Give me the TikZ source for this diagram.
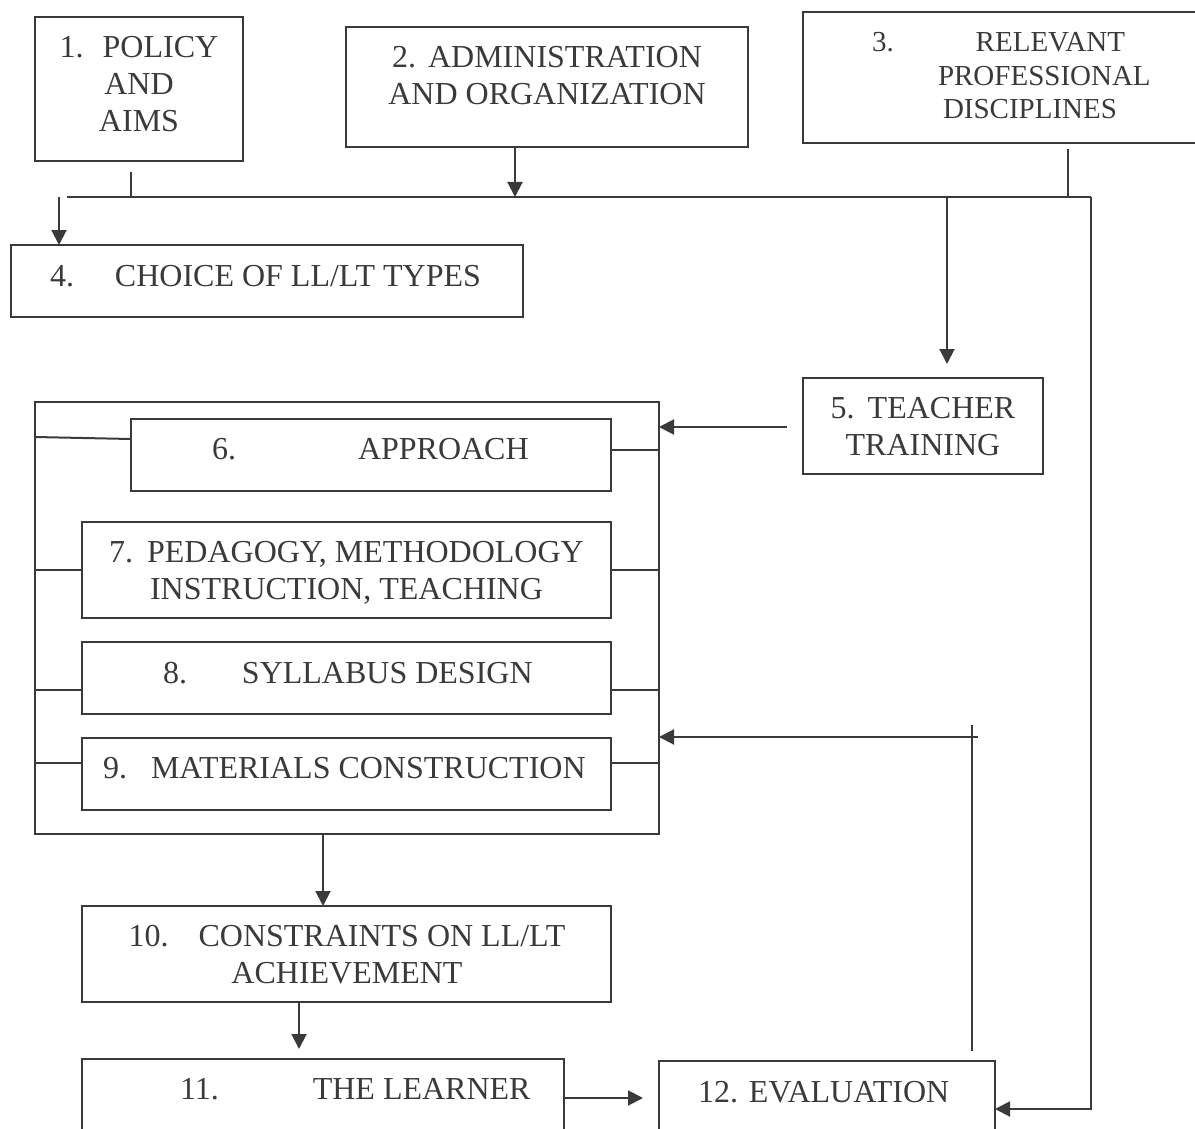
\documentclass[tikz,border=0pt]{standalone}
\usepackage{fontspec}
\setmainfont{Liberation Serif}
\usetikzlibrary{arrows.meta}
\definecolor{ink}{HTML}{3A3A3D}
\begin{document}
\begin{tikzpicture}[x=1pt,y=-1pt,
  box/.style={draw=ink, line width=2pt, inner sep=0pt, outer sep=0pt, anchor=north west},
  txt/.style={text=ink, inner sep=0pt, outer sep=0pt, align=center, font=\fontsize{32}{37}\selectfont},
  ln/.style={draw=ink, line width=2pt},
  arr/.style={ln, -{Triangle[length=15pt,width=15pt]}}]
\useasboundingbox (0,0) rectangle (1195,1129);
\clip (0,0) rectangle (1195,1129);
% boxes
\node[box, minimum width=208pt, minimum height=144pt] (b1) at (35,17) {};
\node[box, minimum width=402pt, minimum height=120pt] (b2) at (346,27) {};
\node[box, minimum width=420pt, minimum height=131pt] (b3) at (803,12) {};
\node[box, minimum width=512pt, minimum height=72pt] (b4) at (11,245) {};
\node[box, minimum width=240pt, minimum height=96pt] (b5) at (803,378) {};
\node[box, minimum width=624pt, minimum height=432pt] (bo) at (35,402) {};
\node[box, minimum width=480pt, minimum height=72pt] (b6) at (131,419) {};
\node[box, minimum width=529pt, minimum height=96pt] (b7) at (82,522) {};
\node[box, minimum width=529pt, minimum height=72pt] (b8) at (82,642) {};
\node[box, minimum width=529pt, minimum height=72pt] (b9) at (82,738) {};
\node[box, minimum width=529pt, minimum height=96pt] (b10) at (82,906) {};
\node[box, minimum width=482pt, minimum height=78pt] (b11) at (82,1059) {};
\node[box, minimum width=336pt, minimum height=96pt] (b12) at (659,1061) {};
% texts
\node[txt, anchor=north] (t1) at (139,32.1) {\strut 1.\hspace{19pt}POLICY\\AND\\AIMS};
\node[txt, anchor=north] (t2) at (547,42.1) {\strut 2.\hspace{12pt}ADMINISTRATION\\AND ORGANIZATION};
\node[txt, anchor=north west, align=left, font=\fontsize{29}{33.5}\selectfont] (t3) at (872,28.55)
  {\strut 3.\hspace{82pt}RELEVANT\\\hspace*{66pt}PROFESSIONAL\\\hspace*{71pt}DISCIPLINES};
\node[txt, anchor=base west] (t4) at (50,286) {4.\hspace{41pt}CHOICE OF LL/LT TYPES};
\node[txt, anchor=north] (t5) at (923,392.1) {\strut 5.\hspace{13pt}TEACHER\\TRAINING};
\node[txt, anchor=base west] (t6) at (212,459) {6.\hspace{122pt}APPROACH};
\node[txt, anchor=north] (t7) at (346.5,536.1) {\strut 7.\hspace{14pt}PEDAGOGY, METHODOLOGY\\INSTRUCTION, TEACHING};
\node[txt, anchor=base west] (t8) at (163,683) {8.\hspace{55pt}SYLLABUS DESIGN};
\node[txt, anchor=base west] (t9) at (103,778) {9.\hspace{24pt}MATERIALS CONSTRUCTION};
\node[txt, anchor=north] (t10) at (347,920.1) {\strut 10.\hspace{30pt}CONSTRAINTS ON LL/LT\\ACHIEVEMENT};
\node[txt, anchor=base west] (t11) at (180,1099) {11.\hspace{94pt}THE LEARNER};
\node[txt, anchor=base west] (t12) at (698,1102) {12.\hspace{11pt}EVALUATION};
% junction coordinates
\coordinate (busL) at (67,197);
\coordinate (busR) at (1091,197);
\coordinate (j1) at (131,197);
\coordinate (j2) at (515,197);
\coordinate (j3) at (1068,197);
\coordinate (j4) at (59,197);
\coordinate (j5) at (947,197);
\coordinate (L6a) at (0,437);
\coordinate (L6b) at (0,439);
\coordinate (R6) at (0,450);
\coordinate (S7) at (0,570);
\coordinate (S8) at (0,690);
\coordinate (S9) at (0,763);
\coordinate (A5) at (0,427);
\coordinate (X10) at (323,0);
\coordinate (X11) at (299,0);
\coordinate (F) at (972,737);
% top bus
\draw[ln] (busL) -- (busR);
\draw[ln, shorten <=11pt] (b1.south -| j1) -- (j1);
\draw[arr] (b2.south -| j2) -- (j2);
\draw[ln, shorten <=6pt] (b3.south -| j3) -- (j3);
\draw[arr] (j4) -- (b4.north -| j4);
\draw[arr, shorten >=14pt] (j5) -- (b5.north -| j5);
\draw[arr] (busR) |- (b12.east);
% teacher training to block
\draw[arr, shorten <=16pt] (b5.west |- A5) -- (bo.east |- A5);
% side links
\draw[ln] (bo.west |- L6a) -- (b6.west |- L6b);
\draw[ln] (b6.east |- R6) -- (bo.east |- R6);
\draw[ln] (bo.west |- S7) -- (b7.west |- S7);
\draw[ln] (b7.east |- S7) -- (bo.east |- S7);
\draw[ln] (bo.west |- S8) -- (b8.west |- S8);
\draw[ln] (b8.east |- S8) -- (bo.east |- S8);
\draw[ln] (bo.west |- S9) -- (b9.west |- S9);
\draw[ln] (b9.east |- S9) -- (bo.east |- S9);
% lower chain
\draw[arr] (bo.south -| X10) -- (b10.north -| X10);
\draw[arr, shorten >=10pt] (b10.south -| X11) -- (b11.north -| X11);
\draw[arr, shorten >=16pt] (b11.east) -- (b11.east -| b12.west);
% feedback from evaluation
\draw[ln, shorten <=10pt, shorten >=-12pt] (b12.north -| F) -- (F);
\draw[arr, shorten <=-6pt] (F) -- (F -| bo.east);
\end{tikzpicture}
\end{document}
